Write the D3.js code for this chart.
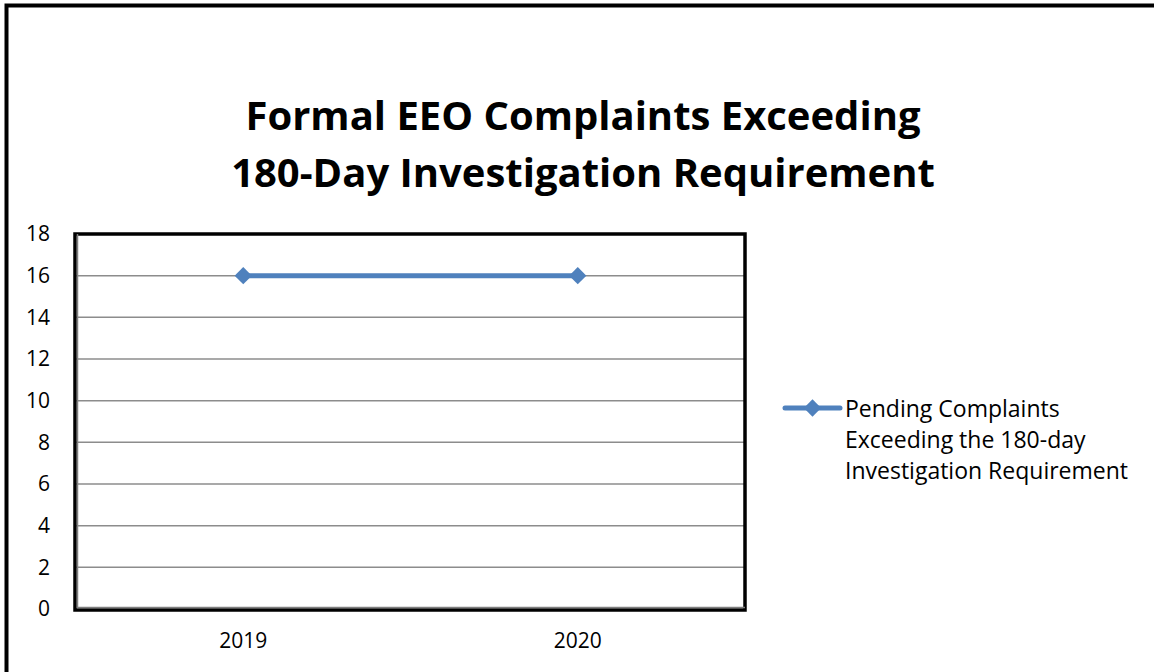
<!DOCTYPE html>
<html>
<head>
<meta charset="utf-8">
<script src="https://cdn.jsdelivr.net/npm/d3@7"></script>
<style>
 body { margin: 0; background: #fff; }
 svg { display: block; }
</style>
</head>
<body>
<svg width="1154" height="672"></svg>
<script>
// chart data
var years = ["2019", "2020"];
var pending = [16, 16];
var yTicks = [0, 2, 4, 6, 8, 10, 12, 14, 16, 18];
var titleLines = ["Formal EEO Complaints Exceeding", "180-Day Investigation Requirement"];
var legendLines = ["Pending Complaints", "Exceeding the 180-day", "Investigation Requirement"];

var lineColor = "#4f81bd";
var gridColor = "#8c8c8c";
var font = "'Open Sans', sans-serif";

var svg = d3.select("svg"),
 plot = { left: 76, right: 745, top: 234, bottom: 609 };

svg.append("rect")
 .attr("width", 1154)
 .attr("height", 672)
 .attr("fill", "#fff");

// outer frame (only top and left edges show)
svg.append("rect")
 .attr("x", 6.5)
 .attr("y", 5.5)
 .attr("width", 1200)
 .attr("height", 720)
 .attr("fill", "none")
 .attr("stroke", "#000")
 .attr("stroke-width", 4);

// title
svg.selectAll(".title")
 .data(titleLines)
 .enter()
 .append("text")
 .attr("class", "title")
 .attr("x", 583)
 .attr("y", function(d, i) { return 130 + i * 57; })
 .attr("text-anchor", "middle")
 .attr("font-family", font)
 .attr("font-weight", "bold")
 .attr("font-size", "40px")
 .attr("fill", "#000")
 .text(function(d) { return d; });

var x = d3.scaleBand().domain(years).range([plot.left, plot.right]);
var y = d3.scaleLinear().domain([0, 18]).range([plot.bottom, plot.top]);

var g = svg.append("g");

// gridlines
g.selectAll(".grid")
 .data(yTicks.filter(function(t) { return t > 0 && t < 18; }))
 .enter()
 .append("line")
 .attr("class", "grid")
 .attr("x1", plot.left)
 .attr("x2", plot.right)
 .attr("y1", function(d) { return y(d); })
 .attr("y2", function(d) { return y(d); })
 .attr("stroke", gridColor)
 .attr("stroke-width", 1.5);

// plot border
g.append("rect")
 .attr("x", plot.left - 1)
 .attr("y", plot.top)
 .attr("width", plot.right - plot.left + 1)
 .attr("height", plot.bottom - plot.top + 1)
 .attr("fill", "none")
 .attr("stroke", "#000")
 .attr("stroke-width", 3.5);

// inner grey axis lines
g.append("path")
 .attr("d", "M" + (plot.left + 1.5) + "," + plot.top + "V" + (plot.bottom - 1.5) + "H" + plot.right)
 .attr("fill", "none")
 .attr("stroke", "#7f7f7f")
 .attr("stroke-width", 1.5);

// y axis labels
var yAxis = d3.axisLeft(y).tickValues(yTicks).tickSize(0).tickPadding(26);
g.append("g")
 .attr("class", "y axis")
 .attr("transform", "translate(" + plot.left + ",0)")
 .call(yAxis)
 .call(function(a) { a.select(".domain").remove(); })
 .selectAll("text")
 .attr("font-family", font)
 .attr("font-size", "21px")
 .attr("fill", "#000");

// x axis labels
var xAxis = d3.axisBottom(x).tickSize(0).tickPadding(24);
g.append("g")
 .attr("class", "x axis")
 .attr("transform", "translate(0," + plot.bottom + ")")
 .call(xAxis)
 .call(function(a) { a.select(".domain").remove(); })
 .selectAll("text")
 .attr("font-family", font)
 .attr("font-size", "21px")
 .attr("fill", "#000");

// series line
var line = d3.line()
 .x(function(d, i) { return x(years[i]) + x.bandwidth() / 2; })
 .y(function(d) { return y(d); });

g.append("path")
 .datum(pending)
 .attr("d", line)
 .attr("fill", "none")
 .attr("stroke", lineColor)
 .attr("stroke-width", 5)
 .attr("stroke-linecap", "round");

var diamond = d3.symbol().type(d3.symbolDiamond2).size(190);

g.selectAll(".marker")
 .data(pending)
 .enter()
 .append("path")
 .attr("class", "marker")
 .attr("d", diamond)
 .attr("transform", function(d, i) {
  return "translate(" + (x(years[i]) + x.bandwidth() / 2) + "," + y(d) + ")";
 })
 .attr("fill", lineColor);

// legend
var leg = svg.append("g").attr("transform", "translate(785,408)");
leg.append("line")
 .attr("x1", 0)
 .attr("x2", 55)
 .attr("stroke", lineColor)
 .attr("stroke-width", 5)
 .attr("stroke-linecap", "round");
leg.append("path")
 .attr("d", diamond)
 .attr("transform", "translate(27.5,0)")
 .attr("fill", lineColor);
leg.selectAll("text")
 .data(legendLines)
 .enter()
 .append("text")
 .attr("x", 60)
 .attr("y", function(d, i) { return 9 + i * 31; })
 .attr("font-family", font)
 .attr("font-size", "23px")
 .attr("fill", "#000")
 .text(function(d) { return d; });
</script>
</body>
</html>
